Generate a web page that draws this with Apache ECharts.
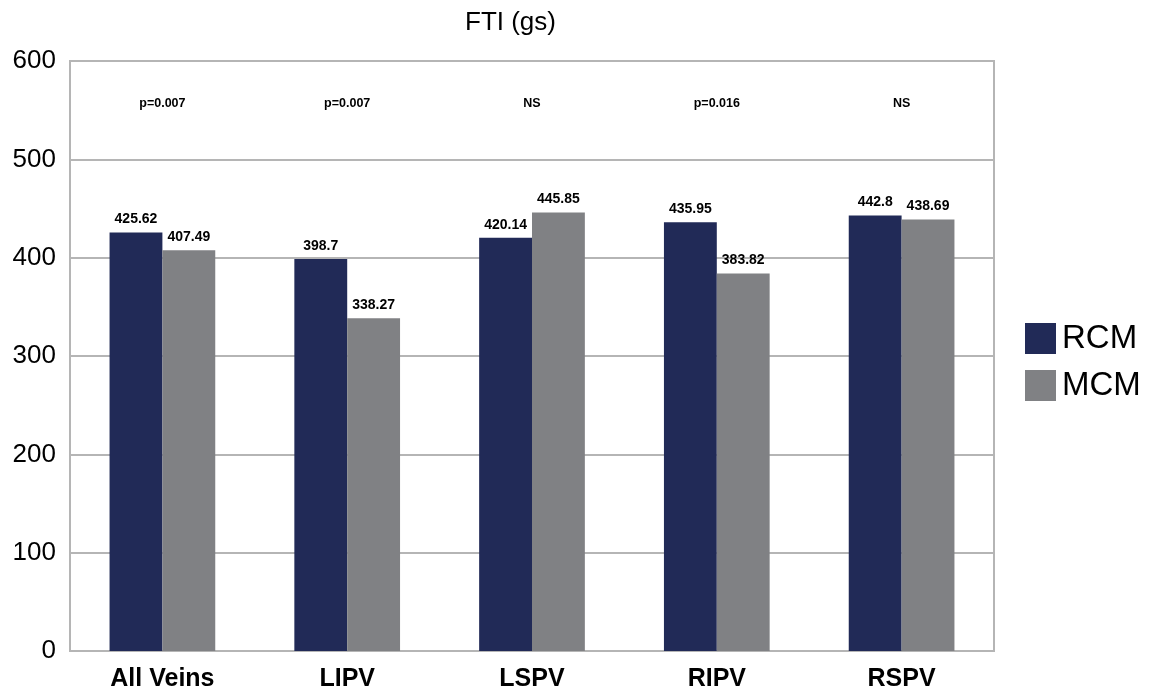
<!DOCTYPE html>
<html>
<head>
<meta charset="utf-8">
<script src="https://cdn.jsdelivr.net/npm/echarts@6/dist/echarts.min.js"></script>
<style>
  html, body { margin: 0; padding: 0; background: #fff; }
  #chart { width: 1153px; height: 693px; }
</style>
</head>
<body>
<div id="chart"></div>
<script>
// FTI (gs) per pulmonary vein, RCM vs MCM
const categories = ['All Veins', 'LIPV', 'LSPV', 'RIPV', 'RSPV'];
const rcmValues = [425.62, 398.7, 420.14, 435.95, 442.8];
const mcmValues = [407.49, 338.27, 445.85, 383.82, 438.69];
const pLabels = ['p=0.007', 'p=0.007', 'NS', 'p=0.016', 'NS'];
const pLabelLevel = 557;
const seriesNames = ['RCM', 'MCM'];

const FONT = 'Liberation Sans, Arial, Helvetica, sans-serif';
const chart = echarts.init(document.getElementById('chart'));

chart.setOption({
  animation: false,
  backgroundColor: '#ffffff',
  title: {
    text: 'FTI (gs)',
    left: 465,
    top: 10,
    padding: 0,
    textStyle: { fontFamily: FONT, fontSize: 26, fontWeight: 'normal', color: '#000' }
  },
  legend: {
    data: seriesNames,
    orient: 'vertical',
    left: 1025,
    top: 322,
    padding: 0,
    itemWidth: 31,
    itemHeight: 31,
    itemGap: 14,
    icon: 'rect',
    textStyle: { fontFamily: FONT, fontSize: 33, color: '#000', padding: [0, 0, 0, 1] }
  },
  grid: {
    left: 70,
    right: 159,
    top: 61,
    bottom: 42,
    show: true,
    borderColor: '#b5b5b5',
    borderWidth: 2,
    containLabel: false
  },
  xAxis: {
    type: 'category',
    data: categories,
    axisLine: { show: false },
    axisTick: { show: false },
    axisLabel: {
      fontFamily: FONT, fontSize: 25, fontWeight: 'bold', color: '#000', margin: 16
    }
  },
  yAxis: {
    type: 'value',
    min: 0,
    max: 600,
    interval: 100,
    axisLine: { show: false },
    axisTick: { show: false },
    splitLine: { lineStyle: { color: '#b5b5b5', width: 2 } },
    axisLabel: { fontFamily: FONT, fontSize: 26, color: '#000', margin: 14 }
  },
  series: [
    {
      name: seriesNames[0],
      type: 'bar',
      data: rcmValues,
      barWidth: '28.6%',
      barGap: '0%',
      itemStyle: { color: '#212a57' },
      label: {
        show: true, position: 'top', distance: 6,
        fontFamily: FONT, fontSize: 14, fontWeight: 'bold', color: '#000'
      }
    },
    {
      name: seriesNames[1],
      type: 'bar',
      data: mcmValues,
      barWidth: '28.6%',
      barGap: '0%',
      itemStyle: { color: '#808184' },
      label: {
        show: true, position: 'top', distance: 6,
        fontFamily: FONT, fontSize: 14, fontWeight: 'bold', color: '#000'
      }
    },
    {
      name: 'p',
      type: 'scatter',
      symbolSize: 0,
      silent: true,
      itemStyle: { opacity: 1, color: 'transparent' },
      data: pLabels.map((t, i) => ({ value: [categories[i], pLabelLevel], label: { formatter: t } })),
      label: {
        show: true, position: 'inside',
        fontFamily: FONT, fontSize: 12.5, fontWeight: 'bold', color: '#000', opacity: 1
      }
    }
  ]
});
</script>
</body>
</html>
